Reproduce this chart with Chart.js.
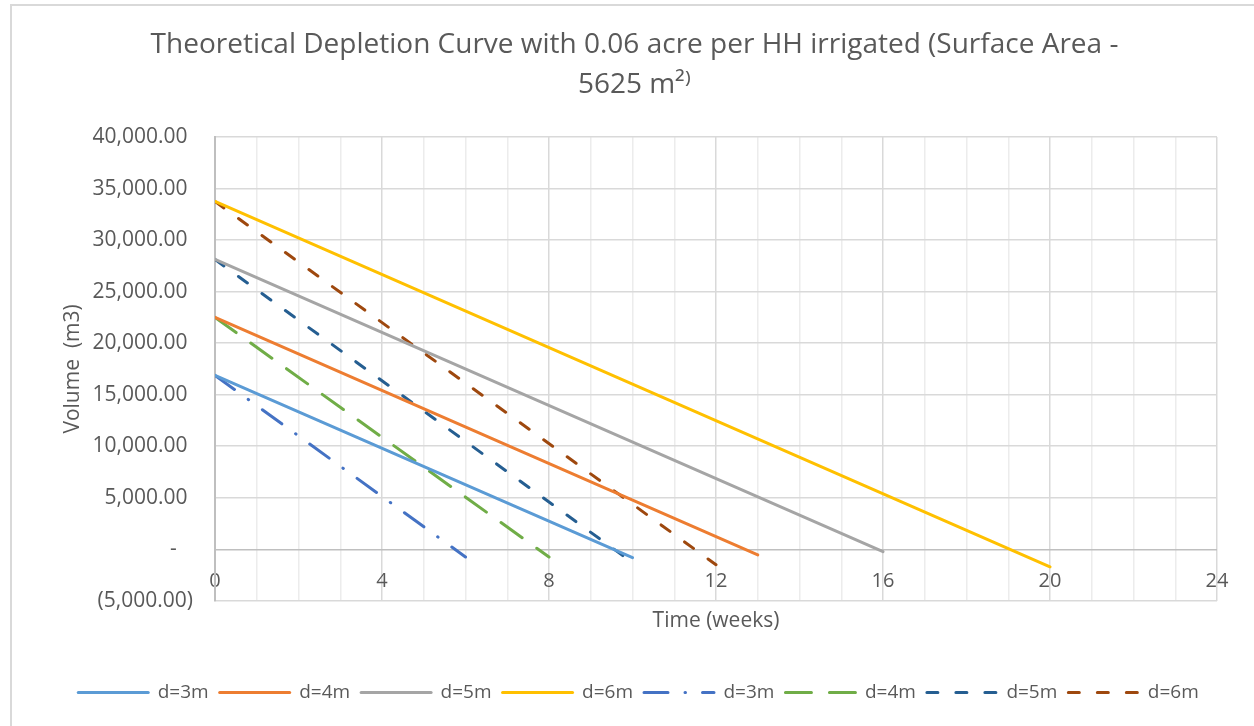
<!DOCTYPE html>
<html>
<head>
<meta charset="utf-8">
<script src="https://cdn.jsdelivr.net/npm/chart.js@4/dist/chart.umd.min.js"></script>
<style>
  html, body { margin: 0; padding: 0; background: #fff; }
  #wrap { position: relative; width: 1254px; height: 726px; }
</style>
</head>
<body>
<div id="wrap"><canvas id="myChart"></canvas></div>
<script>
// series data (week, volume m3)
const seriesLabels = ['d=3m', 'd=4m', 'd=5m', 'd=6m', 'd=3m', 'd=4m', 'd=5m', 'd=6m'];
const startWeeks = [0, 0, 0, 0, 0, 0, 0, 0];
const startVolumes = [16875, 22500, 28125, 33750, 16875, 22500, 28125, 33750];
const endWeeks = [10, 13, 16, 20, 6, 8, 10, 12];
const endVolumes = [-820, -550, -230, -1700, -750, -750, -1300, -1500];

const xTicks = [0, 4, 8, 12, 16, 20, 24];
const yTicks = [-5000, 0, 5000, 10000, 15000, 20000, 25000, 30000, 35000, 40000];

const colors = ['#5B9BD5', '#ED7D31', '#A5A5A5', '#FFC000', '#4472C4', '#70AD47', '#255E91', '#9E480E'];
const dashes = [[], [], [], [], [24, 17, 0.5, 17], [26, 18], [11, 18], [11, 18]];

const FONT = "'Open Sans', 'Liberation Sans', sans-serif";
const GREY_TEXT = '#595959';

const fmtVol = function (v) {
  if (v === 0) return '-   ';
  const s = Math.abs(v).toLocaleString('en-US', { minimumFractionDigits: 2, maximumFractionDigits: 2 });
  return v < 0 ? '(' + s + ')' : s + ' ';
};

const datasets = seriesLabels.map(function (label, i) {
  return {
    label: label,
    data: [
      { x: startWeeks[i], y: startVolumes[i] },
      { x: endWeeks[i], y: endVolumes[i] }
    ],
    borderColor: colors[i],
    backgroundColor: colors[i],
    borderWidth: 3,
    borderDash: dashes[i],
    borderCapStyle: 'round',
    pointRadius: 0,
    tension: 0
  };
});

// outer chart frame (left and top edges only), legend + title nudged right like the original
const framePlugin = {
  id: 'frame',
  afterLayout(chart) {
    chart.legend.left += 28;
    chart.legend.right += 28;
    chart.titleBlock.left += 24;
    chart.titleBlock.right += 24;
  },
  beforeDraw(chart) {
    const ctx = chart.ctx;
    ctx.save();
    ctx.strokeStyle = '#d9d9d9';
    ctx.lineWidth = 2;
    ctx.beginPath();
    ctx.moveTo(11, chart.height);
    ctx.lineTo(11, 5);
    ctx.lineTo(chart.width, 5);
    ctx.stroke();
    ctx.restore();
  }
};

const initChart = function () {
  var ctx = document.getElementById('myChart').getContext('2d');
  var chart = new Chart(ctx, {
    type: 'line',
    data: { datasets: datasets },
    plugins: [framePlugin],
    options: {
      responsive: true,
      maintainAspectRatio: false,
      animation: false,
      layout: { padding: { top: 12, right: 37, bottom: 14, left: 4 } },
      plugins: {
        title: {
          display: true,
          text: ['Theoretical Depletion Curve with 0.06 acre per HH irrigated (Surface Area -', '5625 m\u00B2\u207E'],
          color: GREY_TEXT,
          font: { family: FONT, size: 28, weight: 'normal', lineHeight: 1.43 },
          padding: { top: 13, bottom: 32 }
        },
        legend: {
          position: 'bottom',
          labels: {
            usePointStyle: true,
            pointStyle: 'line',
            pointStyleWidth: 70,
            boxWidth: 70,
            padding: 11,
            color: GREY_TEXT,
            font: { family: FONT, size: 19 },
            generateLabels: function (chart) {
              const items = Chart.defaults.plugins.legend.labels.generateLabels(chart);
              items.forEach(function (it) {
                const ds = chart.data.datasets[it.datasetIndex];
                it.lineDash = ds.borderDash;
                it.lineWidth = ds.borderWidth;
                it.strokeStyle = ds.borderColor;
                it.lineCap = 'round';
              });
              return items;
            }
          }
        },
        tooltip: { enabled: false }
      },
      scales: {
        x: {
          type: 'linear',
          min: 0,
          max: 24,
          ticks: { stepSize: 1, display: false },
          grid: {
            drawTicks: false,
            color: function (c) { return c.tick && c.tick.value % 4 === 0 ? '#d9d9d9' : '#ececec'; },
            lineWidth: 1.5
          },
          border: { display: false },
          title: {
            display: true,
            text: 'Time (weeks)',
            color: GREY_TEXT,
            font: { family: FONT, size: 21 },
            padding: { top: 8, bottom: 38 }
          }
        },
        xLabels: {
          type: 'linear',
          position: { y: 0 },
          min: 0,
          max: 24,
          afterBuildTicks: function (scale) { scale.ticks = xTicks.map(function (v) { return { value: v }; }); },
          ticks: { color: GREY_TEXT, font: { family: FONT, size: 20 }, padding: 20, maxRotation: 0 },
          grid: { display: false, drawTicks: false },
          border: { display: false }
        },
        y: {
          type: 'linear',
          min: -5000,
          max: 40000,
          afterBuildTicks: function (scale) { scale.ticks = yTicks.map(function (v) { return { value: v }; }); },
          afterFit: function (scale) { scale.width = 211; },
          ticks: {
            color: GREY_TEXT,
            font: { family: FONT, size: 21 },
            padding: 22,
            callback: function (v) { return fmtVol(v); }
          },
          grid: {
            drawTicks: false,
            color: function (c) { return c.tick && c.tick.value === 0 ? '#bfbfbf' : '#d9d9d9'; },
            lineWidth: 1.5
          },
          border: { display: true, color: '#bfbfbf', width: 2 },
          title: {
            display: true,
            text: 'Volume  (m3)',
            color: GREY_TEXT,
            font: { family: FONT, size: 21 },
            padding: { top: 56, bottom: 0 }
          }
        }
      }
    }
  });
  return chart;
};

initChart();
</script>
</body>
</html>
